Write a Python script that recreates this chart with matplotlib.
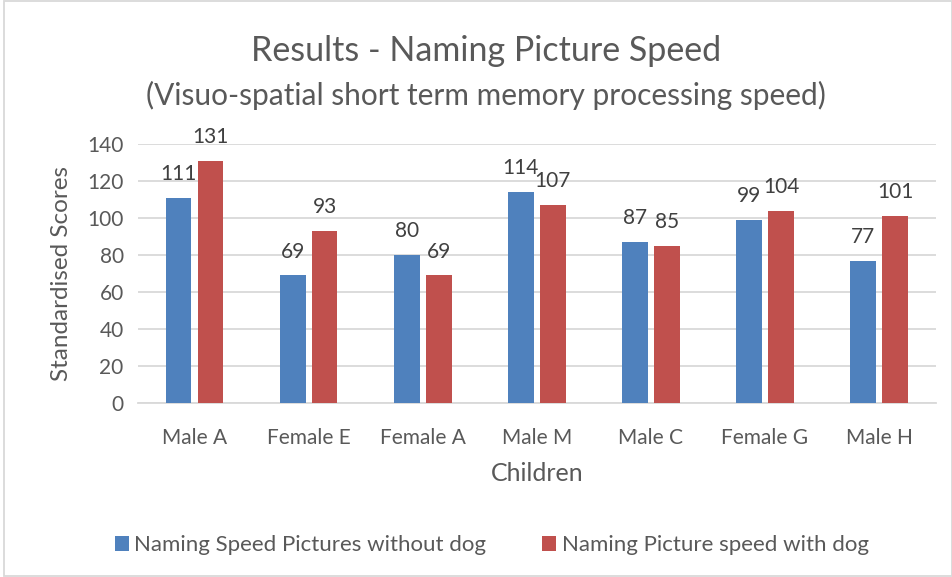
import numpy as np
import matplotlib.pyplot as plt
import matplotlib

children = ["Male A", "Female E", "Female A", "Male M", "Male C", "Female G", "Male H"]
without_dog = [111, 69, 80, 114, 87, 99, 77]
with_dog = [131, 93, 69, 107, 85, 104, 101]
series_names = ["Naming Speed Pictures without dog", "Naming Picture speed with dog"]
y_ticks = [0, 20, 40, 60, 80, 100, 120, 140]

plt.rcParams['font.family'] = ['Lato', 'DejaVu Sans']
txt = '#595959'

fig = plt.figure(figsize=(9.53, 5.77), dpi=100)
ax = fig.add_axes([0.1443, 0.3016, 0.838, 0.4484])

x = np.arange(len(children))
w = 0.225
b1 = ax.bar(x - 0.14, without_dog, w, color='#4F81BD', label=series_names[0], zorder=3)
b2 = ax.bar(x + 0.14, with_dog, w, color='#C0504D', label=series_names[1], zorder=3)
ax.bar_label(b1, padding=10, fontsize=15, color='#404040')
ax.bar_label(b2, padding=10, fontsize=15, color='#404040')

ax.set_xlim(-0.5, len(children) - 0.5)
ax.set_ylim(0, 140)
ax.set_yticks(y_ticks)
ax.set_xticks(x)
ax.set_xticklabels(children)
ax.tick_params(axis='both', length=0, labelsize=15, labelcolor=txt)
ax.tick_params(axis='x', pad=18)
ax.tick_params(axis='y', pad=10)
ax.grid(axis='y', color='#D9D9D9', linewidth=1.3, zorder=0)
for s in ['top', 'right', 'left']:
    ax.spines[s].set_visible(False)
ax.spines['bottom'].set_color('#D9D9D9')
ax.spines['bottom'].set_linewidth(1.3)

ax.set_xlabel("Children", fontsize=18, color=txt, labelpad=10)
ax.set_ylabel("Standardised Scores", fontsize=17.5, color=txt, labelpad=11)

fig.text(0.51, 0.912, "Results - Naming Picture Speed", ha='center', va='center', fontsize=24.5, color=txt)
fig.text(0.51, 0.834, "(Visuo-spatial short term memory processing speed)", ha='center', va='center', fontsize=21.5, color=txt)

fig.legend(handles=[b1, b2], loc='center', bbox_to_anchor=(0.516, 0.055), ncol=2, frameon=False,
           fontsize=16, labelcolor=txt, handlelength=0.63, handleheight=0.63, columnspacing=2.5, handletextpad=0.25)

fig.patches.append(matplotlib.patches.Rectangle((0.004, 0.001), 0.995, 0.998, transform=fig.transFigure,
                                                fill=False, edgecolor='#D9D9D9', linewidth=1.3))

plt.savefig("out.png", dpi=100)
